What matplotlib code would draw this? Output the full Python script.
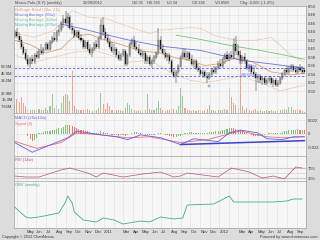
import numpy as np
import pandas as pd
import matplotlib
matplotlib.use('Agg')
import matplotlib.pyplot as plt

plt.rcParams['font.family'] = ['Liberation Sans', 'DejaVu Sans']

W, H = 320, 240

# weekly bars, Marco Polo (S.Y)
weeks = pd.date_range('2010-03-24', '2012-09-26', freq='7D')

opens = [0.430, 0.440, 0.430, 0.420, 0.405, 0.390, 0.375, 0.365, 0.375, 0.370,
         0.385, 0.380, 0.395, 0.390, 0.400, 0.410, 0.400, 0.415, 0.425, 0.420,
         0.440, 0.445, 0.460, 0.470, 0.460, 0.475, 0.450, 0.445, 0.430, 0.440,
         0.425, 0.420, 0.405, 0.415, 0.400, 0.390, 0.400, 0.410, 0.405, 0.425,
         0.455, 0.440, 0.425, 0.415, 0.405, 0.395, 0.400, 0.385, 0.375, 0.385,
         0.395, 0.365, 0.385, 0.410, 0.420, 0.405, 0.400, 0.390, 0.385, 0.390,
         0.370, 0.380, 0.365, 0.370, 0.380, 0.390, 0.420, 0.400, 0.390, 0.380,
         0.385, 0.370, 0.345, 0.335, 0.345, 0.360, 0.380, 0.390, 0.380, 0.390,
         0.375, 0.365, 0.370, 0.355, 0.350, 0.340, 0.345, 0.335, 0.330, 0.340,
         0.350, 0.345, 0.355, 0.365, 0.360, 0.375, 0.385, 0.375, 0.385, 0.380,
         0.410, 0.395, 0.385, 0.370, 0.380, 0.370, 0.355, 0.360, 0.345, 0.340,
         0.330, 0.335, 0.325, 0.330, 0.320, 0.325, 0.330, 0.320, 0.325, 0.315,
         0.320, 0.330, 0.340, 0.350, 0.345, 0.355, 0.360, 0.350, 0.345, 0.355,
         0.350, 0.350]
highs = [0.445, 0.450, 0.440, 0.430, 0.410, 0.400, 0.385, 0.380, 0.385, 0.390,
         0.395, 0.400, 0.410, 0.405, 0.415, 0.415, 0.420, 0.430, 0.440, 0.445,
         0.455, 0.465, 0.480, 0.490, 0.485, 0.480, 0.460, 0.450, 0.445, 0.445,
         0.435, 0.425, 0.420, 0.420, 0.410, 0.405, 0.415, 0.420, 0.430, 0.470,
         0.475, 0.450, 0.435, 0.425, 0.415, 0.410, 0.405, 0.395, 0.390, 0.400,
         0.400, 0.390, 0.415, 0.425, 0.430, 0.415, 0.410, 0.400, 0.395, 0.395,
         0.385, 0.385, 0.375, 0.385, 0.395, 0.450, 0.430, 0.410, 0.400, 0.390,
         0.390, 0.375, 0.355, 0.350, 0.365, 0.385, 0.400, 0.400, 0.395, 0.395,
         0.385, 0.375, 0.375, 0.365, 0.360, 0.350, 0.350, 0.345, 0.345, 0.355,
         0.360, 0.360, 0.370, 0.375, 0.380, 0.390, 0.395, 0.390, 0.395, 0.425,
         0.430, 0.410, 0.395, 0.385, 0.390, 0.375, 0.365, 0.365, 0.355, 0.345,
         0.340, 0.340, 0.335, 0.335, 0.330, 0.335, 0.335, 0.330, 0.330, 0.325,
         0.335, 0.345, 0.355, 0.360, 0.360, 0.365, 0.365, 0.360, 0.360, 0.365,
         0.360, 0.355]
lows = [0.425, 0.425, 0.415, 0.400, 0.385, 0.370, 0.360, 0.355, 0.365, 0.365,
        0.375, 0.375, 0.385, 0.385, 0.395, 0.395, 0.395, 0.410, 0.415, 0.415,
        0.430, 0.440, 0.450, 0.455, 0.450, 0.445, 0.435, 0.425, 0.425, 0.420,
        0.415, 0.400, 0.400, 0.395, 0.385, 0.380, 0.395, 0.400, 0.400, 0.420,
        0.430, 0.420, 0.410, 0.400, 0.390, 0.385, 0.380, 0.370, 0.370, 0.380,
        0.360, 0.360, 0.380, 0.405, 0.400, 0.395, 0.385, 0.380, 0.375, 0.365,
        0.365, 0.360, 0.355, 0.365, 0.375, 0.385, 0.395, 0.385, 0.375, 0.370,
        0.365, 0.340, 0.330, 0.320, 0.340, 0.355, 0.375, 0.375, 0.370, 0.370,
        0.360, 0.355, 0.350, 0.345, 0.335, 0.330, 0.330, 0.320, 0.325, 0.335,
        0.340, 0.340, 0.350, 0.355, 0.355, 0.365, 0.370, 0.370, 0.375, 0.375,
        0.385, 0.380, 0.365, 0.365, 0.365, 0.350, 0.345, 0.340, 0.335, 0.300,
        0.320, 0.320, 0.315, 0.315, 0.315, 0.320, 0.315, 0.310, 0.310, 0.310,
        0.315, 0.325, 0.335, 0.340, 0.340, 0.345, 0.345, 0.340, 0.340, 0.345,
        0.340, 0.340]
closes = [0.440, 0.430, 0.420, 0.405, 0.390, 0.375, 0.365, 0.375, 0.370, 0.385,
          0.380, 0.395, 0.390, 0.400, 0.410, 0.400, 0.415, 0.425, 0.420, 0.440,
          0.445, 0.460, 0.470, 0.460, 0.475, 0.450, 0.445, 0.430, 0.440, 0.425,
          0.420, 0.405, 0.415, 0.400, 0.390, 0.400, 0.410, 0.405, 0.425, 0.455,
          0.440, 0.425, 0.415, 0.405, 0.395, 0.400, 0.385, 0.375, 0.385, 0.395,
          0.365, 0.385, 0.410, 0.420, 0.405, 0.400, 0.390, 0.385, 0.390, 0.370,
          0.380, 0.365, 0.370, 0.380, 0.390, 0.420, 0.400, 0.390, 0.380, 0.385,
          0.370, 0.345, 0.335, 0.345, 0.360, 0.380, 0.390, 0.380, 0.390, 0.375,
          0.365, 0.370, 0.355, 0.350, 0.340, 0.345, 0.335, 0.330, 0.340, 0.350,
          0.345, 0.355, 0.365, 0.360, 0.375, 0.385, 0.375, 0.385, 0.380, 0.410,
          0.395, 0.385, 0.370, 0.380, 0.370, 0.355, 0.360, 0.345, 0.340, 0.330,
          0.335, 0.325, 0.330, 0.320, 0.325, 0.330, 0.320, 0.325, 0.315, 0.320,
          0.330, 0.340, 0.350, 0.345, 0.355, 0.360, 0.350, 0.345, 0.355, 0.350,
          0.345, 0.345]
# volume in millions of shares
volume = [10, 16, 13, 18, 12, 8, 5, 4, 3, 4, 3, 5, 3, 4, 6, 3, 8, 22, 6, 9,
          5, 12, 20, 22, 21, 14, 49, 8, 5, 4, 3, 4, 3, 5, 3, 2, 3, 4, 6, 23,
          10, 5, 12, 8, 3, 2, 3, 4, 3, 2, 6, 12, 9, 5, 3, 2, 3, 2, 4, 3,
          22, 5, 3, 4, 6, 14, 6, 3, 2, 3, 4, 6, 5, 4, 8, 29, 20, 6, 4, 3,
          2, 3, 2, 3, 4, 2, 3, 5, 9, 4, 3, 2, 3, 4, 3, 5, 4, 29, 18, 12,
          9, 6, 73, 8, 4, 6, 3, 2, 3, 5, 2, 3, 2, 2, 3, 2, 3, 2, 2, 3,
          4, 3, 5, 3, 7, 7, 4, 3, 5, 3, 2, 1]

# overlays (week index, value)
bb_up_idx = [0, 9, 18, 26, 34, 41, 50, 61, 66, 79, 84, 91, 100, 109, 116, 125, 131]
bb_up_val = [0.437, 0.427, 0.444, 0.490, 0.474, 0.472, 0.455, 0.436, 0.444, 0.450,
             0.448, 0.430, 0.420, 0.420, 0.427, 0.385, 0.368]
bb_mid_idx = [0, 7, 14, 21, 27, 34, 41, 48, 57, 66, 73, 79, 86, 93, 100, 107, 116, 125, 131]
bb_mid_val = [0.420, 0.410, 0.390, 0.400, 0.430, 0.434, 0.420, 0.410, 0.395, 0.390,
              0.378, 0.373, 0.360, 0.365, 0.378, 0.370, 0.345, 0.338, 0.342]
bb_lo_idx = [0, 9, 16, 27, 36, 43, 52, 61, 70, 79, 86, 93, 102, 111, 120, 131]
bb_lo_val = [0.385, 0.368, 0.378, 0.392, 0.396, 0.385, 0.368, 0.373, 0.345, 0.326,
             0.320, 0.326, 0.335, 0.320, 0.300, 0.314]
ma50_idx = [21, 30, 39, 52, 66, 84, 93, 102, 116, 131]
ma50_val = [0.458, 0.448, 0.436, 0.420, 0.406, 0.396, 0.385, 0.373, 0.364, 0.354]
ma100_idx = [73, 84, 97, 111, 120, 131]
ma100_val = [0.432, 0.422, 0.408, 0.396, 0.387, 0.375]
levels = [0.355, 0.335]

macd_idx = [0, 8, 24, 28, 39, 46, 51, 57, 66, 75, 81, 92, 97, 102, 110, 114, 121, 126, 131]
macd_val = [-0.0141, -0.0299, -0.0063, 0.0047, -0.0016, -0.0047, -0.0094, -0.0016, -0.0063,
            -0.0173, -0.0079, -0.0126, 0.0016, 0.0063, 0.0016, -0.0079, -0.0094, -0.0047, -0.0047]
signal_idx = [0, 10, 21, 28, 39, 51, 61, 75, 87, 102, 114, 121, 131]
signal_val = [-0.0120, -0.0236, -0.0141, 0.0016, -0.0016, -0.0063, -0.0047, -0.0141,
              -0.0094, 0.0047, -0.0047, -0.0063, -0.0047]
hist = [0, 0, 0, 0, 0, 0, -4, -8, -11, -10, -7, 1, 2, 3, 4, 5, 5, 6, 7, 8,
        9, 10, 12, 14, 15, 14, 13, 11, 10, 8, 7, 6, 5, 4, 3, 2, 2, 1, 2, 4,
        3, 2, 1, 0, -1, -2, -2, -3, -2, -2, -3, -2, 0, 2, 3, 3, 2, 1, 0, -1,
        -1, -2, -2, -1, 0, 2, 1, 0, -1, -2, -3, -4, -5, -5, -4, -3, -1, 1, 2, 3,
        3, 2, 2, 1, 1, 2, 2, 2, 3, 3, 3, 4, 4, 5, 6, 7, 8, 9, 10, 9,
        8, 7, 6, 5, 3, 2, 0, -2, -3, -4, -4, -3, -2, -1, 0, 1, 1, 2, 2, 1,
        2, 3, 4, 5, 6, 6, 7, 7, 8, 7, 7, 6]
trend_idx = [75, 131]
trend_val = [-0.0173, -0.0110]

rsi_idx = [0, 5, 11, 21, 25, 33, 37, 40, 49, 58, 66, 72, 75, 78, 92, 98, 106, 112,
           117, 122, 127, 130]
rsi_val = [38, 34, 34, 62, 70, 50, 34, 50, 34, 46, 54, 34, 38, 50, 34, 70, 54, 30,
           38, 26, 74, 70]

obv_idx = [0, 5, 7, 11, 20, 23, 24, 26, 27, 31, 37, 40, 45, 49, 57, 61, 66, 72, 76,
           78, 90, 97, 99, 108, 117, 123, 126, 130]
obv_val = [115, 65, 60, 65, 85, 140, 170, 135, 90, 50, 40, 60, 50, 30, 45, 40, 65, 55,
           60, 125, 130, 170, 140, 140, 140, 145, 155, 155]

months = pd.date_range('2010-04-01', '2012-09-01', freq='MS')
month_labels = []
for m in months:
    if m.month == 1:
        month_labels.append(str(m.year))
    elif m.month == 2 or m == months[0]:
        month_labels.append('')
    else:
        month_labels.append(m.strftime('%b'))

x_lo = pd.Timestamp('2010-03-22')
x_hi = pd.Timestamp('2012-10-01')

fig = plt.figure(figsize=(W / 100, H / 100), dpi=100)
fig.patch.set_facecolor('#dcdcdc')


def panel(y0, y1):
    ax = fig.add_axes([14 / W, 1 - y1 / H, 292 / W, (y1 - y0) / H])
    ax.set_facecolor('#f6f6f6')
    ax.set_xlim(x_lo, x_hi)
    ax.set_xticks(months)
    ax.set_xticklabels([])
    ax.grid(True, color='#e0e0e0', lw=0.4)
    ax.set_axisbelow(True)
    ax.yaxis.tick_right()
    ax.tick_params(length=0, labelsize=3, colors='#333333', pad=1)
    for s in ax.spines.values():
        s.set_color('#a0a0a0')
        s.set_linewidth(0.5)
    return ax


def at(idx):
    return weeks[idx]


o = np.array(opens)
c = np.array(closes)
up = c >= o

# price + volume
axv = fig.add_axes([14 / W, 1 - 113 / H, 292 / W, 107 / H])
axv.set_facecolor('#f6f6f6')
axv.set_xlim(x_lo, x_hi)
axv.set_xticks([])
axv.set_ylim(0, 124)
axv.bar(weeks, volume, width=3.5, color=np.where(up, '#9cc89a', '#e6a491'), lw=0)
axv.set_yticks([7.65, 15.3, 22.9, 38.2, 45.9, 53.5])
axv.set_yticklabels(['7.65M', '15.3M', '22.9M', '38.2M', '45.9M', '53.5M'])
axv.tick_params(length=0, labelsize=3, colors='#333333', pad=1)
for s in axv.spines.values():
    s.set_visible(False)

ax = panel(6, 113)
ax.patch.set_visible(False)
ax.set_ylim(0.248, 0.501)
ax.set_yticks(np.arange(0.30, 0.501, 0.02))
ax.set_yticklabels(['%.2f' % v for v in np.arange(0.30, 0.501, 0.02)])
ax.plot(at(bb_up_idx), bb_up_val, color='#d9a272', lw=0.5, ls=(0, (1, 1)))
ax.plot(at(bb_lo_idx), bb_lo_val, color='#d9a272', lw=0.5, ls=(0, (1, 1)))
ax.plot(at(bb_mid_idx), bb_mid_val, color='#d9a272', lw=0.6)
ax.plot(at(ma50_idx), ma50_val, color='#6f6fe8', lw=0.6)
ax.plot(at(ma100_idx), ma100_val, color='#7cc07c', lw=0.6)
for lv in levels:
    ax.axhline(lv, color='#5a5aff', lw=0.6, ls=(0, (3, 2)))
ax.text(at(104), 0.3565, '@0.355', fontsize=2.6, color='#5a5aff')
ax.text(at(102), 0.3365, '@0.335', fontsize=2.6, color='#5a5aff')
ax.vlines(weeks, lows, highs, color='#222222', lw=0.35)
ax.bar(weeks, np.maximum(np.abs(c - o), 0.0012), bottom=np.minimum(o, c), width=3.2,
       color=np.where(up, 'white', '#111111'), edgecolor='#222222', lw=0.25)
ax.plot([at(88)], [0.311], marker='s', ms=2, color='#a8d4e0', mec='#6aa0b0', mew=0.3)

legend = [('Bollinger Band (20w, 2.0)', '#d9a272'), ('Moving Average (50w)', '#6f6fe8'),
          ('Moving Average (100w)', '#7cc07c'), ('Moving Average (200w)', '#4fb8b8')]
for k, (txt, col) in enumerate(legend):
    fig.text(15 / W, 1 - (10 + 5 * k) / H, txt, fontsize=2.9, color=col, va='center')

# MACD
axm = panel(113, 156)
axm.set_ylim(-0.036, 0.034)
axm.set_yticks([-0.022, 0, 0.022])
axm.set_yticklabels(['-0.022', '0', '0.022'])
hcol = ['#7cc07c' if k > 0 and hist[k] >= hist[k - 1] else '#e8786a' for k in range(len(hist))]
axm.bar(weeks, np.array(hist) * 0.001, width=3.5, color=hcol, lw=0)
axm.plot(at(signal_idx), signal_val, color='#f06a6a', lw=0.6)
axm.plot(at(macd_idx), macd_val, color='#6060f0', lw=0.6)
axm.plot(at(trend_idx), trend_val, color='#3c3cf0', lw=1.1)
axm.text(0.003, 0.93, 'MACD (26w,12w)', transform=axm.transAxes, fontsize=2.9, color='#5a5af0', va='top')
axm.text(0.003, 0.80, 'Signal (9)', transform=axm.transAxes, fontsize=2.9, color='#f06a6a', va='top')

# RSI
axr = panel(156, 181)
axr.set_ylim(18, 118)
axr.set_yticks([30, 70])
axr.set_yticklabels(['30%', '70%'])
axr.grid(False, axis='y')
axr.axhline(70, color='#c8c8c8', lw=0.8)
axr.axhline(30, color='#c8c8c8', lw=0.8)
axr.axhline(50, color='#999999', lw=0.4, ls=(0, (1, 1)))
axr.plot(at(rsi_idx), rsi_val, color='#b0508a', lw=0.5)
axr.text(0.003, 0.93, 'RSI (14w)', transform=axr.transAxes, fontsize=2.9, color='#b0508a', va='top')

# OBV
axo = panel(181, 228)
axo.set_ylim(10, 245)
axo.set_yticks([])
axo.grid(False, axis='y')
axo.plot(at(obv_idx), obv_val, color='#4aa88a', lw=0.6)
axo.text(0.003, 0.95, 'OBV (weekly)', transform=axo.transAxes, fontsize=2.9, color='#4aa88a', va='top')
axo.set_xticklabels(month_labels, ha='left', fontsize=3)
axo.tick_params(axis='x', pad=1.5)

# header
head = [(15, 'Marco Polo (S.Y) (weekly)'), (83, '26/09/2012'), (132, 'O:0.35'),
        (147, 'H:0.355'), (167, 'L:0.34'), (192, 'C:0.345'), (215, 'V:0.85M'),
        (240, 'Chg:-0.005 (-1.4%)')]
for xp, txt in head:
    fig.text(xp / W, 1 - 3 / H, txt, fontsize=2.9, color='#444444', va='center')

fig.text(2 / W, 1 - 237 / H, 'Copyright \u00a9 2012 ChartNexus', fontsize=2.8, color='#333333', va='center')
fig.text(318 / W, 1 - 237 / H, 'Powered by www.chartnexus.com', fontsize=2.8, color='#333333',
         va='center', ha='right')

fig.savefig('out.png', dpi=100, facecolor=fig.get_facecolor())
